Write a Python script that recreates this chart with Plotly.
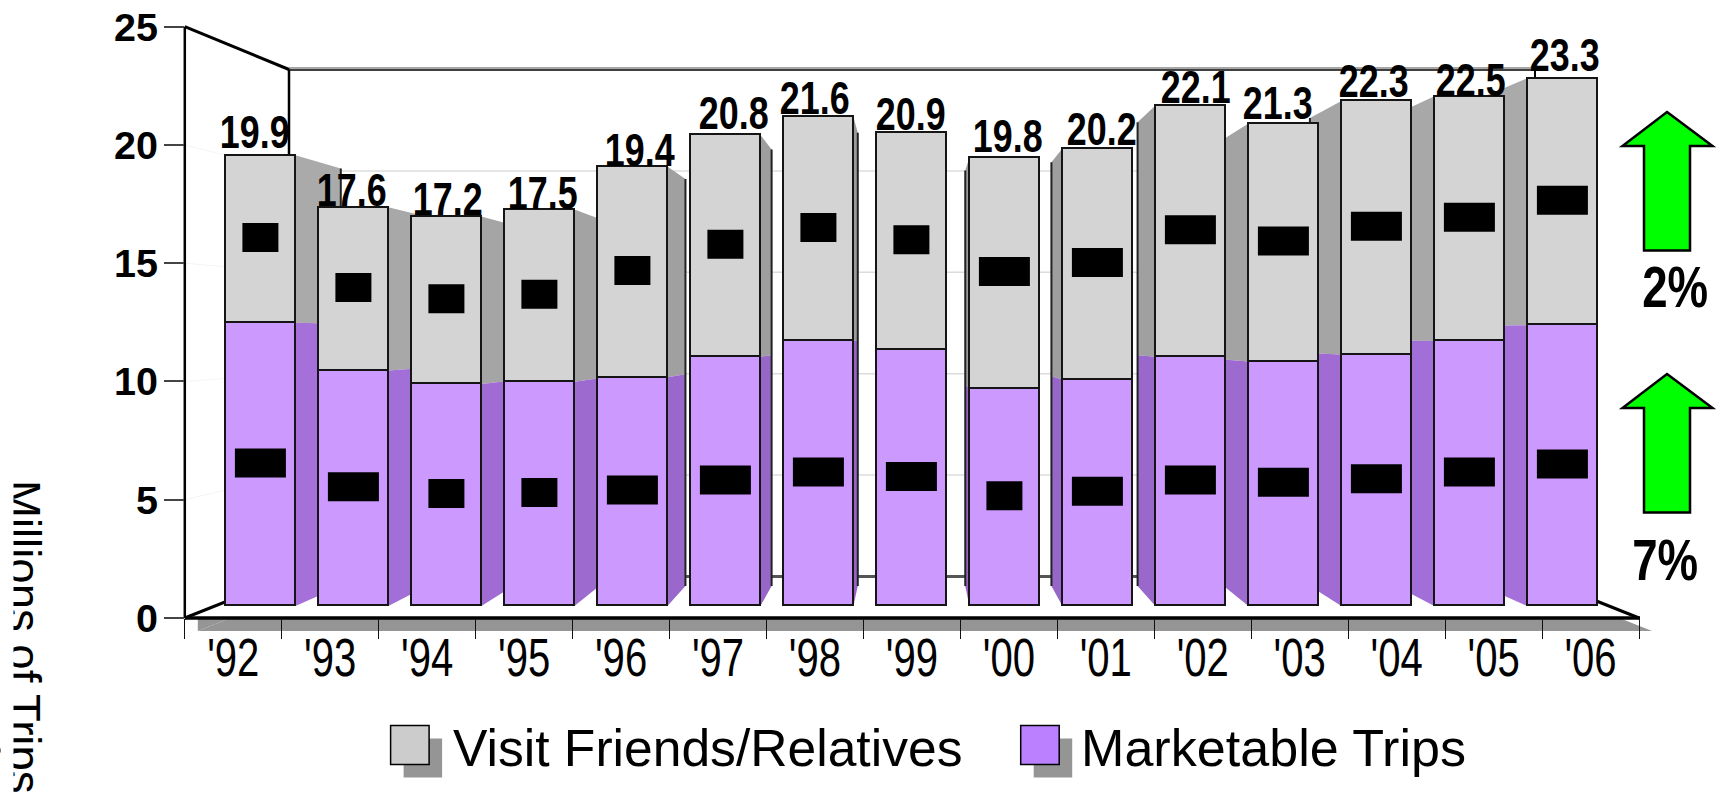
import plotly.graph_objects as go

# Trips in millions, 1992-2006
years = ["'92", "'93", "'94", "'95", "'96", "'97", "'98", "'99", "'00", "'01", "'02", "'03", "'04", "'05", "'06"]
totals = [19.9, 17.6, 17.2, 17.5, 19.4, 20.8, 21.6, 20.9, 19.8, 20.2, 22.1, 21.3, 22.3, 22.5, 23.3]
marketable = [12.5, 10.4, 9.8, 9.9, 10.1, 11.0, 11.7, 11.3, 9.6, 10.0, 11.0, 10.8, 11.1, 11.7, 12.4]
visit = [round(t - m, 1) for t, m in zip(totals, marketable)]
y_ticks = [0, 5, 10, 15, 20, 25]

# Nudges that keep the total labels off their neighbours, in pixels
label_dx = [-5, -1, 2, 4, 8, 9, -3, 0, 4, 5, 6, -5, -2, 2, 3]
label_gap = [7, 1, 1, 1, 1, 6, 3, 3, 6, 3, 2, 5, 4, 0, 7]

W, H = 1724, 799
FONT = "Liberation Sans"

# Page geometry of the projected chart box
FRONT_L, FRONT_R, FRONT_T, FRONT_B = 184.8, 1639.0, 26.7, 618.0
BACK_L, BACK_R, BACK_T, BACK_B = 289.0, 1535.0, 69.5, 576.5
BAR_X0, BAR_PITCH, BAR_W = 260.4, 93.0, 70.0
BAR_BASE, BAR_SCALE = 606.0, 22.65
VANISH_X, VANISH_Y, DEPTH = 913.0, 335.0, 0.9265
SHADOW = 13


def px(x):
    return x / W


def py(y):
    return 1 - y / H


def poly(points, fill, line=None, lw=0):
    path = "M " + " L ".join(f"{px(a):.5f},{py(b):.5f}" for a, b in points) + " Z"
    return dict(type="path", path=path, xref="paper", yref="paper", layer="below",
                fillcolor=fill, line=dict(color=line or fill, width=lw))


def seg(x0, y0, x1, y1, color="#000000", lw=3):
    return dict(type="line", xref="paper", yref="paper", layer="below",
                x0=px(x0), y0=py(y0), x1=px(x1), y1=py(y1), line=dict(color=color, width=lw))


def wall_y(value):
    return BACK_B + (BACK_T - BACK_B) * value / 25


def front_y(value):
    return FRONT_B + (FRONT_T - FRONT_B) * value / 25


shapes = []

# Drop shadows of the side wall and floor
shapes.append(poly([(FRONT_L + SHADOW, FRONT_T + SHADOW), (BACK_L + SHADOW, BACK_T + SHADOW),
                    (BACK_L + SHADOW, BACK_B + SHADOW), (FRONT_L + SHADOW, FRONT_B + SHADOW)], "#959595"))
shapes.append(poly([(FRONT_L + SHADOW, FRONT_B + SHADOW), (BACK_L + SHADOW, BACK_B + SHADOW),
                    (BACK_R + SHADOW, BACK_B + SHADOW), (FRONT_R + SHADOW, FRONT_B + SHADOW)], "#959595"))

# Side wall, floor and back wall
shapes.append(poly([(FRONT_L, FRONT_T), (BACK_L, BACK_T), (BACK_L, BACK_B), (FRONT_L, FRONT_B)], "#ffffff"))
shapes.append(poly([(FRONT_L, FRONT_B), (BACK_L, BACK_B), (BACK_R, BACK_B), (FRONT_R, FRONT_B)], "#ffffff"))
shapes.append(poly([(BACK_L, BACK_T), (BACK_R, BACK_T), (BACK_R, BACK_B), (BACK_L, BACK_B)], "#ffffff"))

# Gridlines across the walls
for v in y_ticks[1:-1]:
    shapes.append(seg(BACK_L, wall_y(v), BACK_R, wall_y(v), "#dcdcdc", 1.5))
    shapes.append(seg(FRONT_L, front_y(v), BACK_L, wall_y(v), "#f4f4f4", 1))

# Box edges
shapes.append(seg(BACK_L, BACK_T - 1.5, BACK_R, BACK_T - 1.5, "#8a8a8a", 1.5))
shapes.append(seg(BACK_L, BACK_T + 0.5, BACK_R, BACK_T + 0.5, "#000000", 1.5))
shapes.append(seg(BACK_L, BACK_B, BACK_R, BACK_B, "#555555", 3))
shapes.append(seg(BACK_R, BACK_T, BACK_R, BACK_B, "#000000", 2))
shapes.append(seg(BACK_L, BACK_T, BACK_L, BACK_B, "#000000", 2.5))
shapes.append(seg(FRONT_L, FRONT_T, BACK_L, BACK_T, "#000000", 3))
shapes.append(seg(FRONT_L, FRONT_T, FRONT_L, FRONT_B, "#000000", 2.5))
shapes.append(seg(FRONT_L, FRONT_B, BACK_L, BACK_B, "#000000", 3))
shapes.append(seg(FRONT_R, FRONT_B, BACK_R, BACK_B, "#000000", 3))
shapes.append(seg(FRONT_L, FRONT_B, FRONT_R + 1, FRONT_B, "#000000", 3.5))

# Growth arrows beside the bars
for top in (112, 374):
    shapes.append(poly([(1667, top), (1712.5, top + 34), (1690, top + 34), (1690, top + 138.5),
                        (1644, top + 138.5), (1644, top + 34), (1622.5, top + 34)],
                       "#00ff00", "#000000", 2.5))

# Legend swatches with their shadows
for left, swatch in ((390.6, "#cccccc"), (1020.7, "#bb80ff")):
    shapes.append(poly([(left + 13, 738.5), (left + 51.5, 738.5), (left + 51.5, 777.5), (left + 13, 777.5)], "#959595"))
    shapes.append(poly([(left, 725.5), (left + 38.5, 725.5), (left + 38.5, 764.5), (left, 764.5)],
                       swatch, "#000000", 1.5))

fig = go.Figure()

# Keeps the category axis and value axis on the main subplot
fig.add_trace(go.Scatter(x=years, y=[0] * len(years), mode="markers", marker=dict(opacity=0),
                         hoverinfo="skip", showlegend=False, xaxis="x", yaxis="y"))

half = BAR_W / BAR_PITCH / 2
vx = (VANISH_X - BAR_X0) / BAR_PITCH
vy = (BAR_BASE - VANISH_Y) / BAR_SCALE


def back_x(x):
    return vx + DEPTH * (x - vx)


def back_y(y):
    return vy + DEPTH * (y - vy)


def mix(a, b, t):
    return "rgb(" + ",".join(str(round(p + (q - p) * t)) for p, q in zip(a, b)) + ")"


# Perspective side faces of the bars, pointing at the vanishing point
edge_x, edge_y = [], []
for i, (m, total) in enumerate(zip(marketable, totals)):
    if i == 7:
        continue
    t = abs(i - 7) / 7
    near = i + half if i < 7 else i - half
    far = back_x(near)
    for low, high, c0, c1 in ((m, total, (153, 153, 153), (170, 170, 170)),
                              (0, m, (146, 98, 194), (165, 112, 218))):
        fig.add_trace(go.Scatter(
            x=[near, far, far, near, near],
            y=[low, back_y(low), back_y(high), high, low],
            mode="lines", fill="toself", fillcolor=mix(c0, c1, t), line=dict(width=0),
            hoverinfo="skip", showlegend=False, xaxis="x2", yaxis="y2"))
    edge_x += [far, far, None]
    edge_y += [back_y(0), back_y(total), None]

fig.add_trace(go.Scatter(x=edge_x, y=edge_y, mode="lines", line=dict(color="#222222", width=2),
                         hoverinfo="skip", showlegend=False, xaxis="x2", yaxis="y2"))

positions = list(range(len(years)))
bar_line = dict(color="#151515", width=1.6)
fig.add_trace(go.Bar(x=positions, y=marketable, width=BAR_W / BAR_PITCH, name="Marketable Trips",
                     marker=dict(color="#cc99ff", line=bar_line), xaxis="x3", yaxis="y3", showlegend=False))
fig.add_trace(go.Bar(x=positions, y=visit, width=BAR_W / BAR_PITCH, name="Visit Friends/Relatives",
                     marker=dict(color="#d4d4d4", line=bar_line), xaxis="x3", yaxis="y3", showlegend=False))

# Black blocks sit at the middle of each bar segment
for i, (m, v) in enumerate(zip(marketable, visit)):
    for value, mid in ((m, m / 2), (v, m + v / 2)):
        half_w = 25.5 if value >= 10 else 18
        shapes.append(dict(type="rect", xref="x3", yref="y3", layer="above",
                           xsizemode="pixel", ysizemode="pixel", xanchor=i, yanchor=mid,
                           x0=-half_w, x1=half_w, y0=-13, y1=16,
                           fillcolor="#000000", line=dict(width=0)))

annotations = []

# Totals above the bars
for i, total in enumerate(totals):
    annotations.append(dict(xref="x3", yref="y3", x=i, y=total, text=f"{total:.1f}", showarrow=False,
                            xanchor="center", yanchor="bottom", xshift=label_dx[i], yshift=label_gap[i] - 12,
                            font=dict(family=FONT, size=46, color="#000000", weight=700)))


def page_text(x, y, text, size, bold=False, xanchor="left", angle=0):
    annotations.append(dict(xref="paper", yref="paper", x=px(x), y=py(y), text=text, showarrow=False,
                            xanchor=xanchor, yanchor="middle", textangle=angle,
                            font=dict(family=FONT, size=size, color="#000000", weight=700 if bold else 400)))


page_text(1675, 287, "2%", 57, True, "center")
page_text(1665, 560, "7%", 57, True, "center")
page_text(451, 748, "Visit Friends/Relatives", 51.6)
page_text(1079, 748, "Marketable Trips", 52.1)
page_text(24, 637, "Millions of Trips", 45.5, False, "center", 90)

# Left margin of the rotated title stays blank
annotations.append(dict(xref="paper", yref="paper", x=0, y=py(637), xanchor="left", yanchor="middle",
                        text=" ", showarrow=False, width=12, height=320, bgcolor="#ffffff", borderpad=0))

hidden = dict(visible=False, showgrid=False, zeroline=False, automargin=False)
# Overlay axes share the main subplot's domain, so the ranges span that box
x_range = [(FRONT_L - BAR_X0) / BAR_PITCH, (FRONT_R - BAR_X0) / BAR_PITCH]
y_range = [(BAR_BASE - FRONT_B) / BAR_SCALE, (BAR_BASE - FRONT_T) / BAR_SCALE]

fig.update_layout(
    template="none",
    width=W, height=H, autosize=False,
    margin=dict(l=0, r=0, t=0, b=0),
    paper_bgcolor="#ffffff", plot_bgcolor="rgba(0,0,0,0)",
    barmode="stack", bargap=0, showlegend=False,
    shapes=shapes, annotations=annotations,
    xaxis=dict(domain=[px(FRONT_L), px(FRONT_R)], type="category", categoryorder="array", categoryarray=years,
               range=[-0.5, 14.5], tickson="boundaries", ticks="outside", ticklen=20, tickwidth=1.2,
               tickcolor="#111111", showline=False, showgrid=False, zeroline=False, automargin=False,
               ticklabelstandoff=4,
               tickfont=dict(family=FONT, size=53, color="#000000")),
    yaxis=dict(domain=[py(FRONT_B), py(FRONT_T)], range=[0, 25], tickmode="array", tickvals=y_ticks,
               ticks="outside", ticklen=20, tickwidth=1.5, tickcolor="#444444", showline=False,
               showgrid=False, zeroline=False, automargin=False, ticklabelstandoff=-2,
               tickfont=dict(family=FONT, size=39.5, color="#000000", weight=700)),
    xaxis2=dict(range=x_range, overlaying="x", anchor="y2", **hidden),
    yaxis2=dict(range=y_range, overlaying="y", anchor="x2", **hidden),
    xaxis3=dict(range=x_range, overlaying="x", anchor="y3", **hidden),
    yaxis3=dict(range=y_range, overlaying="y", anchor="x3", **hidden),
)

# The year labels, totals and percentages are set condensed
condense = """
var gd = document.getElementById('{plot_id}');
var squeeze = function () {
  var picked = gd.querySelectorAll('.xtick text, .annotation-text');
  picked.forEach(function (node) {
    var txt = node.textContent.trim();
    var rate = /^'/.test(txt) ? 0.755 : (/%$/.test(txt) ? 0.8 : 0.78);
    if (/^('\\d\\d|\\d+\\.\\d|\\d%)$/.test(txt)) {
      node.setAttribute('textLength', (node.getComputedTextLength() * rate).toFixed(1));
      node.setAttribute('lengthAdjust', 'spacingAndGlyphs');
    }
  });
};
squeeze();
"""
fig.write_html("out.html", post_script=condense)
